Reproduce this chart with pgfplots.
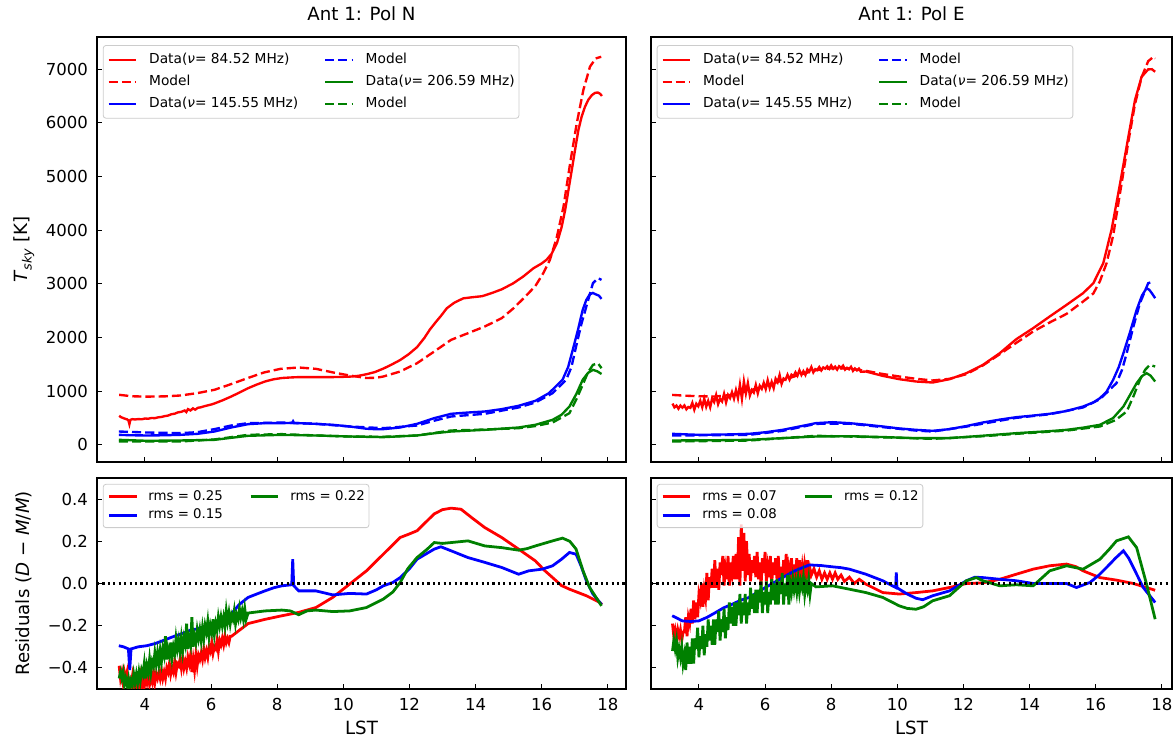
\documentclass[border=0pt]{standalone}
\usepackage{fontspec}
\setmainfont{DejaVu Sans}
\usepackage{pgfplots}
\pgfplotsset{compat=1.18}
\definecolor{mred}{RGB}{255,0,0}
\definecolor{mblue}{RGB}{0,0,255}
\definecolor{mgreen}{RGB}{0,128,0}
\pgfplotsset{
  mpl/.style={
    scale only axis,
    xmin=2.55,
    axis line style={line width=0.8pt},
    tick align=inside,
    xtick pos=left, ytick pos=left,
    major tick length=3.6pt,
    every tick/.style={black, line width=0.8pt},
    xtick={4,6,...,18},
    ticklabel style={font=\fontsize{11.9}{13}\selectfont},
    xticklabel style={yshift=-3pt},
    yticklabel style={xshift=-3pt},
    /pgf/number format/assume math mode=true,
    title style={font=\fontsize{13.1}{15}\selectfont, at={(0.5,1)}, anchor=base, yshift=6pt, inner sep=0pt},
    label style={font=\fontsize{13.1}{15}\selectfont},
    xlabel style={at={(axis description cs:0.5,0)}, anchor=base, yshift=-32.9pt, inner sep=0pt},
    legend image code/.code={\draw[#1] (0pt,0pt) -- (20pt,0pt);},
  },
  top/.style={
    height=306pt, ymin=-320, ymax=7600,
    ytick={0,1000,...,7000},
    xticklabels={},
    legend columns=2,
    legend cell align=left,
    legend style={at={(axis description cs:0.011,0.981)}, anchor=north west,
      draw=black!20, line width=0.6pt, rounded corners=2pt, fill=white, fill opacity=0.8, text opacity=1, draw opacity=1,
      font=\fontsize{9.9}{11}\selectfont,
      nodes={inner sep=0pt, text height=0.75em, text depth=0.25em},
      inner xsep=3pt, inner ysep=5.3pt, row sep=5.9pt,
      /tikz/every odd column/.append style={column sep=8.4pt},
      /tikz/every even column/.append style={column sep=18.5pt}},
  },
  bot/.style={
    height=151.92pt, ymin=-0.5, ymax=0.5,
    ytick={-0.4,-0.2,0,0.2,0.4},
    xlabel={LST},
    legend columns=2,
    legend cell align=left,
    legend style={at={(axis description cs:0.011,0.972)}, anchor=north west,
      draw=black!20, line width=0.6pt, rounded corners=2pt, fill=white, fill opacity=0.8, text opacity=1, draw opacity=1,
      font=\fontsize{9.6}{11}\selectfont,
      nodes={inner sep=0pt, text height=0.75em, text depth=0.25em},
      inner xsep=3pt, inner ysep=3.8pt, row sep=3.6pt,
      /tikz/every odd column/.append style={column sep=7.5pt},
      /tikz/every even column/.append style={column sep=19pt}},
  },
  dat/.style={line width=1.7pt, forget plot},
  mod/.style={line width=1.7pt, dash pattern=on 6.6pt off 2.9pt, forget plot},
  res/.style={line width=2pt, forget plot},
}
\begin{document}
\begin{tikzpicture}
\path[use as bounding box] (0,0) rectangle (846pt,532.08pt);
%================ top left
\begin{axis}[mpl, top, at={(69.84pt,199.44pt)}, anchor=south west, width=380.88pt, xmax=18.55,
  title={Ant 1: Pol N},
  yticklabels={0,1000,2000,3000,4000,5000,6000,7000},
  ylabel={\textit{T}\textsubscript{\textit{sky}} [K]},
  ylabel style={at={(axis description cs:-0.138,0.5)}, anchor=center}]
\addplot[dat, mred] coordinates {(3.22,540)(3.28,515)(3.34,500)(3.40,485)(3.46,475)(3.50,455)(3.53,385)(3.56,465)(3.62,478)(3.70,472)(3.80,480)(3.90,476)(4.00,490)(4.10,486)(4.20,500)(4.30,497)(4.40,512)(4.50,520)(4.60,535)(4.70,545)(4.80,570)(4.90,580)(5.00,605)(5.10,615)(5.20,640)(5.25,610)(5.30,665)(5.38,640)(5.45,680)(5.52,655)(5.60,690)(5.70,700)(5.80,720)(5.90,735)(6.00,750)(6.10,770)(6.35,830)(6.61,900)(6.86,975)(7.12,1055)(7.37,1120)(7.63,1180)(7.88,1220)(8.14,1245)(8.40,1255)(8.65,1262)(9.17,1262)(9.68,1262)(10.19,1270)(10.45,1285)(10.70,1315)(10.95,1355)(11.21,1420)(11.46,1495)(11.72,1580)(11.98,1690)(12.23,1820)(12.45,1990)(12.62,2150)(12.80,2290)(12.95,2400)(13.13,2545)(13.36,2650)(13.63,2730)(13.9,2750)(14.2,2770)(14.5,2830)(14.8,2900)(15.14,3010)(15.45,3140)(15.75,3290)(16.0,3380)(16.15,3450)(16.3,3560)(16.46,3756)(16.6,4050)(16.71,4376)(16.81,4750)(16.91,5121)(17.01,5500)(17.11,5866)(17.21,6120)(17.31,6300)(17.41,6430)(17.52,6518)(17.62,6560)(17.70,6565)(17.77,6540)(17.82,6500)};
\addplot[mod, mred] coordinates {(3.22,932)(3.6,905)(4.05,898)(4.6,903)(5.07,919)(5.58,963)(6.1,1025)(6.6,1130)(7.1,1242)(7.6,1348)(8.1,1416)(8.65,1441)(9.17,1416)(9.68,1350)(10.19,1292)(10.7,1245)(11.0,1250)(11.21,1273)(11.72,1366)(12.23,1521)(12.75,1739)(13.26,1956)(13.77,2080)(14.28,2205)(14.79,2360)(15.14,2540)(15.5,2760)(15.81,2960)(16.05,3200)(16.25,3450)(16.45,3850)(16.66,4438)(16.86,5246)(17.06,5990)(17.26,6611)(17.46,7045)(17.63,7200)(17.8,7231)};
\addplot[dat, mblue] coordinates {(3.21,186)(3.6,178)(4.05,174)(4.56,178)(5.07,186)(5.59,205)(6.1,248)(6.61,323)(7.12,385)(7.63,404)(8.14,404)(8.45,408)(8.48,440)(8.51,405)(8.65,404)(9.17,391)(9.68,373)(10.19,342)(10.7,300)(11.0,290)(11.21,292)(11.72,323)(12.23,391)(12.75,497)(13.26,578)(13.77,602)(14.28,621)(14.79,665)(15.3,727)(15.81,820)(16.22,963)(16.63,1211)(16.8,1450)(16.94,1770)(17.1,2150)(17.24,2515)(17.35,2700)(17.45,2800)(17.55,2830)(17.65,2800)(17.73,2780)(17.81,2720)};
\addplot[mod, mblue] coordinates {(3.21,248)(4.05,230)(5.07,217)(5.59,236)(6.1,292)(6.61,360)(7.12,404)(8.14,416)(9.17,391)(10.19,342)(11.21,310)(12.23,360)(12.75,450)(13.26,528)(14.28,578)(15.3,696)(15.81,789)(16.33,963)(16.74,1211)(16.9,1450)(17.04,1832)(17.2,2250)(17.35,2577)(17.55,3012)(17.7,3105)(17.81,3074)};
\addplot[dat, mgreen] coordinates {(3.21,93)(4.05,75)(5.07,81)(6.1,93)(6.6,130)(7.12,168)(8.14,186)(9.17,174)(10.19,155)(11.21,143)(12.23,174)(12.75,215)(13.26,248)(14.28,279)(15.3,323)(15.81,373)(16.33,466)(16.6,560)(16.84,714)(17.05,950)(17.24,1211)(17.4,1340)(17.55,1397)(17.68,1370)(17.81,1320)};
\addplot[mod, mgreen] coordinates {(3.21,62)(5.07,62)(6.1,100)(7.12,186)(8.14,199)(9.17,175)(10.19,155)(11.21,150)(12.23,174)(13.26,267)(14.28,285)(15.3,310)(15.81,350)(16.33,416)(16.84,590)(17.05,850)(17.24,1118)(17.4,1350)(17.55,1490)(17.7,1521)(17.81,1428)};
\addlegendimage{mred, line width=1.7pt}\addlegendentry{Data(\textit{ν}= 84.52 MHz)}
\addlegendimage{mblue, line width=1.7pt, dash pattern=on 6.6pt off 2.9pt}\addlegendentry{Model}
\addlegendimage{mred, line width=1.7pt, dash pattern=on 6.6pt off 2.9pt}\addlegendentry{Model}
\addlegendimage{mgreen, line width=1.7pt}\addlegendentry{Data(\textit{ν}= 206.59 MHz)}
\addlegendimage{mblue, line width=1.7pt}\addlegendentry{Data(\textit{ν}= 145.55 MHz)}
\addlegendimage{mgreen, line width=1.7pt, dash pattern=on 6.6pt off 2.9pt}\addlegendentry{Model}
\end{axis}
%================ top right
\begin{axis}[mpl, top, at={(468.72pt,199.44pt)}, anchor=south west, width=375.12pt, xmax=18.31,
  title={Ant 1: Pol E}, yticklabels={}]
\addplot[dat, mred] coordinates {(3.20,768)(3.26,698)(3.32,731)(3.38,673)(3.44,731)(3.50,692)(3.56,734)(3.62,661)(3.68,705)(3.74,689)(3.80,782)(3.86,654)(3.92,766)(3.98,718)(4.04,821)(4.10,701)(4.16,860)(4.22,710)(4.28,819)(4.34,699)(4.40,868)(4.46,798)(4.52,928)(4.58,758)(4.64,859)(4.70,809)(4.76,950)(4.82,790)(4.88,930)(4.94,871)(5.00,981)(5.06,861)(5.12,1020)(5.18,870)(5.24,1120)(5.30,859)(5.36,1180)(5.42,958)(5.48,1150)(5.54,918)(5.60,1021)(5.66,973)(5.72,1116)(5.78,959)(5.84,1101)(5.90,1044)(5.96,1156)(6.02,1039)(6.08,1204)(6.14,1058)(6.20,1173)(6.26,1057)(6.32,1232)(6.38,1167)(6.44,1301)(6.50,1136)(6.56,1236)(6.62,1213)(6.68,1305)(6.74,1216)(6.80,1307)(6.86,1279)(6.92,1352)(6.98,1288)(7.04,1390)(7.10,1303)(7.16,1372)(7.22,1303)(7.28,1407)(7.34,1368)(7.40,1449)(7.46,1350)(7.52,1411)(7.58,1393)(7.64,1449)(7.70,1386)(7.76,1442)(7.82,1419)(7.88,1463)(7.94,1416)(8.00,1480)(8.06,1418)(8.12,1456)(8.18,1402)(8.24,1464)(8.30,1430)(8.36,1475)(8.42,1401)(8.48,1435)(8.54,1408)(8.60,1454)(8.66,1378)(8.72,1423)(8.78,1387)(8.84,1420)(8.90,1361)(9.05,1366)(9.56,1285)(10.06,1223)(10.57,1180)(11.07,1161)(11.58,1223)(12.09,1335)(12.59,1490)(13.1,1708)(13.6,1969)(14.11,2174)(14.61,2391)(15.12,2608)(15.62,2826)(15.93,3011)(16.23,3384)(16.48,4004)(16.74,4873)(16.99,5741)(17.19,6425)(17.39,6858)(17.59,6996)(17.7,7000)(17.8,6952)};
\addplot[mod, mred] coordinates {(3.19,930)(3.6,915)(4.0,905)(4.5,900)(5.01,932)(5.52,1010)(6.02,1099)(6.53,1200)(7.03,1304)(7.54,1390)(8.04,1428)(8.55,1420)(9.05,1379)(9.56,1320)(10.06,1273)(10.57,1230)(11.07,1199)(11.58,1230)(12.09,1317)(12.59,1480)(13.1,1689)(13.6,1900)(14.11,2111)(14.61,2280)(15.12,2440)(15.62,2670)(15.93,2820)(16.13,3050)(16.33,3385)(16.53,3900)(16.74,4700)(16.99,5650)(17.19,6350)(17.39,6850)(17.59,7150)(17.75,7231)(17.8,7200)};
\addplot[dat, mblue] coordinates {(3.19,205)(3.6,195)(4.0,186)(4.5,190)(5.0,195)(5.52,205)(6.02,235)(6.53,279)(7.03,340)(7.54,404)(8.04,422)(8.55,404)(9.05,375)(9.56,342)(10.06,305)(10.57,279)(11.07,261)(11.58,292)(12.09,350)(12.59,416)(13.1,470)(13.6,515)(14.11,545)(14.61,578)(15.12,630)(15.62,714)(15.93,790)(16.13,869)(16.33,990)(16.53,1211)(16.7,1450)(16.84,1708)(17.04,2100)(17.24,2515)(17.4,2780)(17.54,2919)(17.62,2890)(17.7,2826)(17.8,2732)};
\addplot[mod, mblue] coordinates {(3.19,174)(4.5,180)(5.52,186)(6.53,260)(7.54,391)(8.55,395)(9.56,330)(10.57,265)(11.07,248)(12.09,340)(13.6,503)(14.61,570)(15.62,696)(16.13,850)(16.63,1149)(16.8,1400)(16.94,1708)(17.14,2200)(17.34,2640)(17.59,3012)(17.75,3043)};
\addplot[dat, mgreen] coordinates {(3.19,81)(4.5,85)(5.52,93)(6.53,125)(7.54,155)(8.55,161)(9.56,145)(10.57,124)(11.58,124)(12.59,170)(13.6,217)(14.61,255)(15.12,279)(15.62,320)(16.13,373)(16.53,500)(16.84,714)(17.04,930)(17.24,1149)(17.4,1280)(17.54,1335)(17.66,1290)(17.8,1180)};
\addplot[mod, mgreen] coordinates {(3.19,62)(5.52,80)(7.54,168)(9.56,140)(11.07,112)(12.59,160)(13.6,205)(15.12,265)(16.13,342)(16.6,460)(16.94,621)(17.14,900)(17.34,1211)(17.5,1400)(17.64,1490)(17.8,1459)};
\addlegendimage{mred, line width=1.7pt}\addlegendentry{Data(\textit{ν}= 84.52 MHz)}
\addlegendimage{mblue, line width=1.7pt, dash pattern=on 6.6pt off 2.9pt}\addlegendentry{Model}
\addlegendimage{mred, line width=1.7pt, dash pattern=on 6.6pt off 2.9pt}\addlegendentry{Model}
\addlegendimage{mgreen, line width=1.7pt}\addlegendentry{Data(\textit{ν}= 206.59 MHz)}
\addlegendimage{mblue, line width=1.7pt}\addlegendentry{Data(\textit{ν}= 145.55 MHz)}
\addlegendimage{mgreen, line width=1.7pt, dash pattern=on 6.6pt off 2.9pt}\addlegendentry{Model}
\end{axis}
%================ bottom left
\begin{axis}[mpl, bot, at={(69.84pt,36pt)}, anchor=south west, width=380.88pt, xmax=18.55,
  yticklabels={−0.4,−0.2,0.0,0.2,0.4},
  ylabel={Residuals (\textit{D} − \textit{M}/\textit{M})},
  ylabel style={at={(axis description cs:-0.138,0.5)}, anchor=center}]
\addplot[res, mred] coordinates {(3.22,-0.39)(3.26,-0.45)(3.30,-0.42)(3.34,-0.47)(3.38,-0.42)(3.42,-0.45)(3.46,-0.42)(3.50,-0.48)(3.54,-0.46)(3.58,-0.48)(3.62,-0.44)(3.66,-0.50)(3.70,-0.46)(3.74,-0.48)(3.78,-0.45)(3.82,-0.48)(3.86,-0.44)(3.90,-0.49)(3.94,-0.45)(3.98,-0.49)(4.02,-0.44)(4.06,-0.47)(4.10,-0.43)(4.14,-0.48)(4.18,-0.45)(4.22,-0.47)(4.26,-0.42)(4.30,-0.47)(4.34,-0.43)(4.38,-0.45)(4.42,-0.42)(4.46,-0.45)(4.50,-0.41)(4.54,-0.45)(4.58,-0.42)(4.62,-0.45)(4.66,-0.40)(4.70,-0.42)(4.74,-0.38)(4.78,-0.43)(4.82,-0.40)(4.86,-0.42)(4.90,-0.37)(4.94,-0.42)(4.98,-0.38)(5.02,-0.39)(5.06,-0.36)(5.10,-0.40)(5.14,-0.35)(5.18,-0.40)(5.22,-0.37)(5.26,-0.40)(5.30,-0.35)(5.34,-0.38)(5.38,-0.34)(5.42,-0.42)(5.46,-0.36)(5.50,-0.41)(5.54,-0.34)(5.58,-0.39)(5.62,-0.34)(5.66,-0.36)(5.70,-0.33)(5.74,-0.36)(5.78,-0.31)(5.82,-0.35)(5.86,-0.32)(5.90,-0.35)(5.94,-0.30)(5.98,-0.32)(6.02,-0.28)(6.06,-0.33)(6.10,-0.30)(6.14,-0.31)(6.18,-0.27)(6.22,-0.32)(6.26,-0.27)(6.30,-0.29)(6.34,-0.26)(6.38,-0.29)(6.42,-0.25)(6.46,-0.28)(6.50,-0.26)(6.54,-0.28)(6.58,-0.25)(6.62,-0.25)(7.12,-0.19)(7.63,-0.17)(8.14,-0.153)(8.65,-0.137)(9.17,-0.114)(9.68,-0.066)(10.19,-0.003)(10.7,0.06)(11.21,0.139)(11.72,0.218)(12.0,0.235)(12.23,0.25)(12.75,0.33)(13.0,0.35)(13.26,0.357)(13.56,0.352)(13.9,0.31)(14.28,0.265)(14.79,0.218)(15.3,0.163)(15.81,0.107)(16.1,0.06)(16.33,0.028)(16.6,-0.01)(16.84,-0.027)(17.35,-0.058)(17.76,-0.09)(17.82,-0.1)};
\addplot[res, mblue] coordinates {(3.21,-0.295)(3.35,-0.30)(3.5,-0.31)(3.54,-0.41)(3.58,-0.31)(3.8,-0.30)(4.05,-0.295)(4.3,-0.285)(4.56,-0.27)(4.8,-0.255)(5.07,-0.24)(5.25,-0.23)(5.4,-0.22)(5.6,-0.215)(5.85,-0.20)(6.1,-0.19)(6.35,-0.17)(6.61,-0.145)(6.85,-0.10)(7.12,-0.066)(7.38,-0.05)(7.63,-0.035)(7.9,-0.02)(8.14,-0.011)(8.44,-0.006)(8.47,0.115)(8.50,-0.01)(8.65,-0.035)(9.17,-0.035)(9.68,-0.054)(10.19,-0.047)(10.7,-0.05)(11.0,-0.03)(11.21,-0.011)(11.5,0.005)(11.72,0.028)(12.0,0.07)(12.23,0.115)(12.5,0.14)(12.75,0.163)(12.95,0.174)(13.26,0.155)(13.77,0.123)(14.28,0.10)(14.79,0.076)(15.3,0.044)(15.61,0.06)(16.02,0.068)(16.33,0.084)(16.6,0.115)(16.84,0.147)(17.04,0.139)(17.2,0.08)(17.35,0.013)(17.55,-0.05)(17.76,-0.09)(17.81,-0.1)};
\addplot[res, mgreen] coordinates {(3.22,-0.45)(3.26,-0.42)(3.30,-0.45)(3.34,-0.42)(3.38,-0.48)(3.42,-0.45)(3.46,-0.48)(3.50,-0.45)(3.54,-0.50)(3.58,-0.46)(3.62,-0.48)(3.66,-0.43)(3.70,-0.47)(3.74,-0.43)(3.78,-0.47)(3.82,-0.42)(3.86,-0.46)(3.90,-0.41)(3.94,-0.43)(3.98,-0.38)(4.02,-0.45)(4.06,-0.39)(4.10,-0.42)(4.14,-0.36)(4.18,-0.42)(4.22,-0.37)(4.26,-0.39)(4.30,-0.33)(4.34,-0.38)(4.38,-0.33)(4.42,-0.38)(4.46,-0.32)(4.50,-0.37)(4.54,-0.31)(4.58,-0.34)(4.62,-0.25)(4.66,-0.36)(4.70,-0.31)(4.74,-0.34)(4.78,-0.28)(4.82,-0.35)(4.86,-0.30)(4.90,-0.33)(4.94,-0.26)(4.98,-0.31)(5.02,-0.27)(5.06,-0.32)(5.10,-0.26)(5.14,-0.32)(5.18,-0.26)(5.22,-0.29)(5.26,-0.19)(5.30,-0.31)(5.34,-0.26)(5.38,-0.29)(5.42,-0.16)(5.46,-0.30)(5.50,-0.25)(5.54,-0.28)(5.58,-0.22)(5.62,-0.26)(5.66,-0.22)(5.70,-0.27)(5.74,-0.21)(5.78,-0.26)(5.82,-0.20)(5.86,-0.23)(5.90,-0.18)(5.94,-0.25)(5.98,-0.20)(6.02,-0.23)(6.06,-0.17)(6.10,-0.24)(6.14,-0.19)(6.18,-0.22)(6.22,-0.16)(6.26,-0.20)(6.30,-0.16)(6.34,-0.20)(6.38,-0.16)(6.42,-0.20)(6.46,-0.13)(6.50,-0.18)(6.54,-0.14)(6.58,-0.19)(6.62,-0.15)(6.66,-0.17)(6.70,-0.13)(6.74,-0.19)(6.78,-0.15)(6.82,-0.17)(6.86,-0.12)(6.90,-0.16)(6.94,-0.13)(6.98,-0.17)(7.02,-0.12)(7.06,-0.17)(7.12,-0.14)(7.63,-0.13)(8.14,-0.126)(8.4,-0.13)(8.65,-0.148)(8.9,-0.13)(9.17,-0.126)(9.68,-0.133)(10.19,-0.13)(10.7,-0.114)(11.21,-0.074)(11.5,-0.04)(11.72,0.005)(11.95,0.07)(12.23,0.123)(12.54,0.163)(12.75,0.194)(13.0,0.19)(13.26,0.194)(13.77,0.202)(14.28,0.178)(14.79,0.17)(15.3,0.158)(15.55,0.165)(15.81,0.178)(16.33,0.202)(16.63,0.215)(16.85,0.2)(17.04,0.163)(17.25,0.06)(17.45,-0.019)(17.81,-0.106)};
\addplot[line width=1.6pt, black, dash pattern=on 1.6pt off 2.3pt, forget plot] coordinates {(2.55,0)(18.55,0)};
\addlegendimage{mred, line width=2pt}\addlegendentry{rms = 0.25}
\addlegendimage{mgreen, line width=2pt}\addlegendentry{rms = 0.22}
\addlegendimage{mblue, line width=2pt}\addlegendentry{rms = 0.15}
\end{axis}
%================ bottom right
\begin{axis}[mpl, bot, at={(468.72pt,36pt)}, anchor=south west, width=375.12pt, xmax=18.31,
  yticklabels={}]
\addplot[res, mred] coordinates {(3.20,-0.19)(3.24,-0.25)(3.28,-0.22)(3.32,-0.26)(3.36,-0.22)(3.40,-0.25)(3.44,-0.22)(3.48,-0.27)(3.52,-0.23)(3.56,-0.23)(3.60,-0.16)(3.64,-0.25)(3.68,-0.16)(3.72,-0.19)(3.76,-0.12)(3.80,-0.19)(3.84,-0.08)(3.88,-0.17)(3.92,-0.09)(3.96,-0.16)(4.00,-0.05)(4.04,-0.08)(4.08,0.00)(4.12,-0.11)(4.16,-0.03)(4.20,-0.07)(4.24,0.05)(4.28,-0.08)(4.32,0.03)(4.36,-0.02)(4.40,0.07)(4.44,-0.02)(4.48,0.11)(4.52,-0.02)(4.56,0.07)(4.60,-0.03)(4.64,0.10)(4.68,0.04)(4.72,0.13)(4.76,-0.01)(4.80,0.07)(4.84,0.02)(4.88,0.13)(4.92,-0.01)(4.96,0.10)(5.00,0.05)(5.04,0.13)(5.08,0.02)(5.12,0.14)(5.16,0.02)(5.20,0.22)(5.24,-0.01)(5.28,0.28)(5.32,0.06)(5.36,0.24)(5.40,0.01)(5.44,0.20)(5.48,0.04)(5.52,0.14)(5.56,0.01)(5.60,0.11)(5.64,0.05)(5.68,0.13)(5.72,0.03)(5.76,0.15)(5.80,0.02)(5.84,0.10)(5.88,-0.01)(5.92,0.12)(5.96,0.05)(6.00,0.15)(6.04,0.01)(6.08,0.08)(6.12,0.03)(6.16,0.13)(6.20,-0.01)(6.24,0.10)(6.28,0.04)(6.32,0.12)(6.36,0.02)(6.40,0.13)(6.44,0.01)(6.48,0.08)(6.52,-0.02)(6.56,0.11)(6.60,0.04)(6.64,0.14)(6.68,0.00)(6.72,0.07)(6.76,0.02)(6.80,0.12)(6.84,-0.01)(6.88,0.09)(6.92,0.04)(6.96,0.12)(7.00,0.01)(7.04,0.11)(7.08,0.03)(7.12,0.08)(7.16,0.01)(7.20,0.09)(7.24,0.05)(7.28,0.11)(7.32,0.02)(7.36,0.07)(7.40,0.04)(7.48,0.07)(7.56,0.03)(7.64,0.06)(7.72,0.02)(7.80,0.05)(7.88,0.02)(7.96,0.05)(8.04,0.02)(8.12,0.05)(8.20,0.02)(8.30,0.04)(8.40,0.01)(8.55,0.03)(8.70,0.00)(8.85,0.02)(9.05,-0.003)(9.56,-0.043)(10.06,-0.05)(10.57,-0.043)(11.07,-0.035)(11.58,-0.019)(12.09,0)(12.59,0.003)(13.1,0.02)(13.6,0.044)(14.11,0.068)(14.61,0.084)(15.12,0.092)(15.4,0.08)(15.62,0.06)(16.13,0.028)(16.63,0.016)(17.14,0)(17.8,-0.032)};
\addplot[res, mblue] coordinates {(3.19,-0.153)(3.35,-0.165)(3.49,-0.177)(3.75,-0.18)(4.0,-0.177)(4.25,-0.16)(4.51,-0.137)(4.75,-0.115)(5.01,-0.098)(5.25,-0.08)(5.52,-0.066)(6.0,-0.02)(6.53,0.028)(6.9,0.06)(7.34,0.088)(7.7,0.085)(8.04,0.079)(8.3,0.075)(8.55,0.068)(9.05,0.044)(9.56,0.013)(9.95,-0.019)(9.97,0.052)(9.99,-0.02)(10.3,-0.05)(10.57,-0.07)(10.77,-0.077)(11.07,-0.058)(11.58,-0.035)(12.09,0.013)(12.35,0.03)(12.59,0.028)(13.1,0.02)(13.6,0.013)(14.11,0)(14.6,0)(15.12,0)(15.42,-0.019)(15.83,0.005)(16.1,0.04)(16.33,0.076)(16.6,0.12)(16.84,0.155)(17.0,0.12)(17.14,0.076)(17.44,-0.019)(17.8,-0.09)};
\addplot[res, mgreen] coordinates {(3.20,-0.32)(3.24,-0.27)(3.28,-0.31)(3.32,-0.27)(3.36,-0.35)(3.40,-0.31)(3.44,-0.35)(3.48,-0.30)(3.52,-0.38)(3.56,-0.34)(3.60,-0.41)(3.64,-0.28)(3.68,-0.38)(3.72,-0.30)(3.76,-0.38)(3.80,-0.26)(3.84,-0.38)(3.88,-0.26)(3.92,-0.31)(3.96,-0.21)(4.00,-0.35)(4.04,-0.25)(4.08,-0.31)(4.12,-0.20)(4.16,-0.34)(4.20,-0.24)(4.24,-0.30)(4.28,-0.17)(4.32,-0.27)(4.36,-0.20)(4.40,-0.29)(4.44,-0.17)(4.48,-0.29)(4.52,-0.17)(4.56,-0.23)(4.60,-0.13)(4.64,-0.27)(4.68,-0.17)(4.72,-0.23)(4.76,-0.12)(4.80,-0.26)(4.84,-0.16)(4.88,-0.22)(4.92,-0.09)(4.96,-0.19)(5.00,-0.11)(5.04,-0.20)(5.08,-0.09)(5.12,-0.20)(5.16,-0.09)(5.20,-0.15)(5.24,-0.05)(5.28,-0.19)(5.32,-0.09)(5.36,-0.15)(5.40,-0.05)(5.44,-0.19)(5.48,-0.09)(5.52,-0.15)(5.56,-0.02)(5.60,-0.12)(5.64,-0.05)(5.68,-0.14)(5.72,-0.03)(5.76,-0.14)(5.80,-0.03)(5.84,-0.09)(5.88,0.01)(5.92,-0.14)(5.96,-0.04)(6.00,-0.10)(6.04,0.01)(6.08,-0.14)(6.12,-0.04)(6.16,-0.10)(6.20,0.02)(6.24,-0.08)(6.28,0.00)(6.32,-0.10)(6.36,0.02)(6.40,-0.10)(6.44,0.01)(6.48,-0.05)(6.52,0.05)(6.56,-0.10)(6.60,0.00)(6.64,-0.06)(6.68,0.04)(6.72,-0.10)(6.76,0.00)(6.80,-0.04)(6.84,0.02)(6.88,-0.03)(6.92,0.01)(6.96,-0.04)(7.00,0.02)(7.04,-0.04)(7.08,0.01)(7.12,-0.02)(7.16,0.03)(7.20,-0.05)(7.24,0.00)(7.28,-0.03)(7.32,0.02)(7.36,-0.05)(7.40,0.00)(7.54,-0.016)(8.04,-0.011)(8.55,-0.027)(9.05,-0.043)(9.56,-0.066)(10.06,-0.106)(10.3,-0.118)(10.57,-0.122)(10.8,-0.11)(11.07,-0.082)(11.58,-0.058)(11.85,-0.02)(12.09,0.013)(12.39,0.028)(12.59,0.013)(13.1,-0.011)(13.6,-0.006)(14.11,-0.011)(14.4,0.03)(14.61,0.06)(15.12,0.084)(15.62,0.068)(16.13,0.115)(16.4,0.16)(16.63,0.202)(16.99,0.221)(17.24,0.17)(17.54,-0.003)(17.8,-0.169)};
\addplot[line width=1.6pt, black, dash pattern=on 1.6pt off 2.3pt, forget plot] coordinates {(2.55,0)(18.31,0)};
\addlegendimage{mred, line width=2pt}\addlegendentry{rms = 0.07}
\addlegendimage{mgreen, line width=2pt}\addlegendentry{rms = 0.12}
\addlegendimage{mblue, line width=2pt}\addlegendentry{rms = 0.08}
\end{axis}
\end{tikzpicture}
\end{document}
